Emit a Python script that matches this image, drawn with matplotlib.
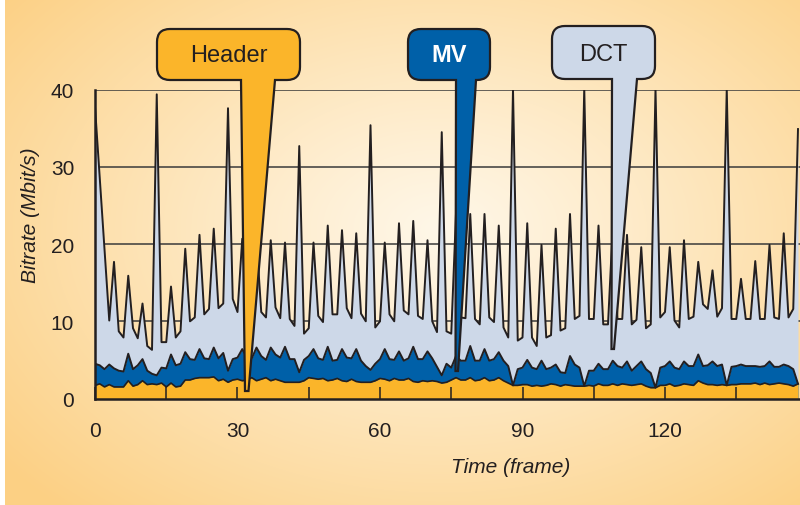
import numpy as np
import matplotlib
matplotlib.use("Agg")
import matplotlib.pyplot as plt
from matplotlib.path import Path
from matplotlib.patches import PathPatch
from matplotlib.transforms import Affine2D

# ---------------- data (Mbit/s per frame) ----------------
frames = np.arange(149)
header = [1.7,1.9,1.5,1.8,1.5,1.5,1.5,2.3,1.6,1.8,
          2.3,1.8,1.9,1.8,2.0,1.5,2.0,1.5,1.6,2.4,
          2.4,2.6,2.7,2.7,2.7,2.8,2.3,2.5,2.1,2.4,
          2.5,2.3,2.4,2.7,2.3,2.5,2.7,2.3,2.5,2.3,
          2.1,2.1,2.1,2.1,2.3,2.7,2.6,2.5,2.6,2.3,
          2.4,2.6,2.3,2.2,2.5,2.2,2.1,2.1,2.1,2.3,
          2.6,2.5,2.3,2.6,2.4,2.4,2.6,2.2,2.1,2.3,
          2.2,2.3,2.2,2.0,2.1,2.4,2.7,2.4,2.4,2.7,
          2.3,2.4,2.7,2.3,2.4,2.7,2.3,2.0,1.7,1.7,
          1.8,1.8,1.6,1.7,1.6,1.7,1.9,1.8,1.6,1.8,
          1.7,1.6,1.6,1.6,1.7,1.6,1.9,1.7,1.7,1.9,
          1.7,1.9,1.8,1.7,1.8,1.9,1.6,1.4,1.4,1.7,
          1.7,1.9,1.6,1.7,1.9,1.8,1.7,2.3,2.0,1.8,
          1.8,1.7,1.8,1.7,1.8,1.8,1.9,1.9,1.9,2.0,
          1.8,2.0,1.8,1.9,2.0,1.9,1.8,1.6,1.9]
mv = [2.8,2.4,2.3,2.6,2.4,2.1,2.0,3.5,2.2,2.5,
      2.8,1.8,1.3,1.2,2.0,2.4,3.7,2.8,2.9,3.6,
      2.7,2.4,3.7,2.5,2.4,3.8,2.9,3.4,1.5,2.7,
      2.8,4.1,2.9,2.5,4.3,3.0,2.3,4.3,3.2,3.0,
      4.6,3.0,3.0,1.3,2.7,2.8,3.8,2.7,2.4,4.4,
      2.5,2.4,4.1,3.1,2.7,4.2,2.8,2.1,1.6,2.2,
      2.5,3.9,2.8,2.4,3.7,2.5,2.6,4.5,3.0,2.8,
      3.9,2.9,1.9,1.0,2.4,1.6,2.8,2.5,2.5,4.1,
      2.6,2.5,3.7,2.6,2.7,3.3,2.6,2.2,0.0,2.1,
      2.2,3.2,2.4,2.1,3.3,2.1,2.1,2.6,1.8,1.5,
      3.8,2.8,2.4,0.0,1.9,2.0,2.6,2.1,2.1,3.0,
      2.5,2.1,3.0,1.9,2.4,2.9,2.2,1.9,0.0,2.3,
      2.5,2.9,2.4,2.1,2.9,2.4,2.5,3.4,2.2,2.5,
      3.0,2.5,2.6,0.0,2.3,2.4,2.5,2.3,2.3,2.2,
      2.3,2.2,3.0,2.2,2.1,2.5,2.4,2.2,0.0]
dct = [33.3,24.2,15.5,5.7,13.8,5.1,4.4,10.1,5.3,3.5,
       7.2,3.2,3.1,36.4,3.3,3.4,8.8,3.6,4.2,13.4,
       4.9,5.5,14.8,5.7,6.5,15.4,6.5,6.4,34.0,7.8,
       5.9,14.3,5.7,6.3,13.9,5.7,5.5,13.9,6.1,5.1,
       13.5,5.2,4.3,29.3,3.4,3.6,13.8,5.5,4.9,15.7,
       6.0,5.9,15.4,6.4,5.2,15.0,6.1,5.8,31.7,4.7,
       4.9,13.8,5.8,5.0,16.6,6.5,5.7,16.3,5.6,5.2,
       14.4,4.8,4.5,31.5,4.2,4.4,18.5,5.6,5.5,17.1,
       5.4,4.7,17.5,5.6,4.8,16.4,4.3,3.7,38.4,3.7,
       3.9,17.7,3.9,3.0,15.0,4.1,4.2,17.6,5.4,5.8,
       18.4,5.9,6.7,38.6,6.7,6.7,17.9,5.8,5.8,17.3,
       6.1,6.3,16.4,6.0,6.0,14.8,5.3,6.3,38.7,6.5,
       7.0,14.8,6.1,5.4,15.7,6.1,6.4,12.0,8.0,7.3,
       11.8,6.4,7.3,38.4,6.2,6.1,11.1,6.1,6.1,13.6,
       6.2,6.1,15.1,6.4,6.2,17.0,6.3,7.8,33.0]

x_ticks = [0, 15, 30, 45, 60, 75, 90, 105, 120, 135]
x_ticklabels = ["0", "", "30", "", "60", "", "90", "", "120", ""]
y_ticks = [0, 10, 20, 30, 40]
callout_labels = ["Header", "MV", "DCT"]

# ---------------- style ----------------
W, H = 800, 506
C_HDR = "#fbb52a"
C_MV = "#0060a8"
C_DCT = "#cdd8e8"
C_LINE = "#231f20"
FONT = ["Liberation Sans", "DejaVu Sans"]
plt.rcParams["font.family"] = FONT

fig = plt.figure(figsize=(W / 100, H / 100), dpi=100)

# radial gradient background
bg = fig.add_axes([0, 0, 1, 1], zorder=0)
yy, xx = np.mgrid[0:H, 0:W]
rr = np.sqrt(((xx - 440) / 560.0) ** 2 + ((yy - 230) / 380.0) ** 2)
rr = np.clip(rr, 0, 1)[..., None]
c0 = np.array([255, 247, 232]) / 255.0
c1 = np.array([252, 208, 132]) / 255.0
img = c0 + (c1 - c0) * rr ** 1.1
img[:, :5, :] = 1.0
bg.imshow(img, extent=[0, W, H, 0], aspect="auto", interpolation="bilinear")
bg.set_xlim(0, W)
bg.set_ylim(H, 0)
bg.axis("off")

# main axes: frame 0 at px 95, 4.75 px per frame; y 0 at px 399.5, 40 at 90.7
x_left, y_zero, y_top = 95, 399.5, 90.7
ax = fig.add_axes([x_left / W, 1 - y_zero / H, (W - x_left) / W, (y_zero - y_top) / H], zorder=1)
ax.set_facecolor("none")
ax.set_xlim(0, (W - x_left) / 4.75)
ax.set_ylim(0, 40)

for yv in y_ticks[1:]:
    ax.axhline(yv, color="#3a3a3a", lw=1.1, zorder=0.5)

l1 = np.array(header)
l2 = l1 + np.array(mv)
l3 = l2 + np.array(dct)
ax.fill_between(frames, 0, l3, color=C_DCT, lw=0, zorder=1)
ax.fill_between(frames, 0, l2, color=C_MV, lw=0, zorder=1.1)
ax.fill_between(frames, 0, l1, color=C_HDR, lw=0, zorder=1.2)
ax.plot(frames, l3, color=C_LINE, lw=1.4, zorder=1.5)
ax.plot(frames, l2, color=C_LINE, lw=1.4, zorder=1.5)
ax.plot(frames, l1, color=C_LINE, lw=1.2, zorder=1.5)

for s in ["top", "right"]:
    ax.spines[s].set_visible(False)
for s in ["left", "bottom"]:
    ax.spines[s].set_color(C_LINE)
    ax.spines[s].set_linewidth(1.8)
    ax.spines[s].set_zorder(3)

ax.set_xticks(x_ticks)
ax.set_xticklabels(x_ticklabels)
ax.set_yticks(y_ticks)
ax.tick_params(axis="x", direction="in", length=8.6, width=1.1, color=C_LINE,
               pad=16, labelsize=15, labelcolor="#231f20")
ax.tick_params(axis="y", length=0, pad=15, labelsize=15, labelcolor="#231f20")

# axis titles
pix = Affine2D().scale(1.0 / W, -1.0 / H).translate(0, 1) + fig.transFigure
fig.text(511, 468, "Time (frame)", transform=pix, ha="center", va="center",
         fontsize=15, style="italic", color="#231f20")
fig.text(31, 215, "Bitrate (Mbit/s)", transform=pix, ha="center", va="center",
         fontsize=15, style="italic", rotation=90, color="#231f20")


def callout(x0, x1, y0, y1, r, pl0, pr0, tipl, tipr, face):
    verts = [(x0 + r, y0), (x1 - r, y0), (x1, y0), (x1, y0 + r),
             (x1, y1 - r), (x1, y1), (x1 - r, y1),
             (pr0, y1), tipr, tipl, (pl0, y1),
             (x0 + r, y1), (x0, y1), (x0, y1 - r),
             (x0, y0 + r), (x0, y0), (x0 + r, y0), (x0 + r, y0)]
    codes = [Path.MOVETO, Path.LINETO, Path.CURVE3, Path.CURVE3,
             Path.LINETO, Path.CURVE3, Path.CURVE3,
             Path.LINETO, Path.LINETO, Path.LINETO, Path.LINETO,
             Path.LINETO, Path.CURVE3, Path.CURVE3,
             Path.LINETO, Path.CURVE3, Path.CURVE3, Path.CLOSEPOLY]
    p = PathPatch(Path(verts, codes), facecolor=face, edgecolor=C_LINE, lw=1.6,
                  transform=pix, zorder=10, joinstyle="miter")
    fig.add_artist(p)


callout(157, 300, 30, 81, 13, 241, 275, (245, 392), (248.5, 392), C_HDR)
callout(408, 490, 30, 81, 13, 456, 476, (455.5, 372), (458, 372), C_MV)
callout(552, 655, 27, 80, 13, 612, 637, (611.5, 350), (614, 350), C_DCT)

fig.text(228.5, 56, callout_labels[0], transform=pix, ha="center", va="center",
         fontsize=17, color="#231f20", zorder=11)
fig.text(449, 56, callout_labels[1], transform=pix, ha="center", va="center",
         fontsize=17, fontweight="bold", color="white", zorder=11)
fig.text(603.5, 55, callout_labels[2], transform=pix, ha="center", va="center",
         fontsize=17, color="#231f20", zorder=11)

fig.savefig("out.png", dpi=100)
